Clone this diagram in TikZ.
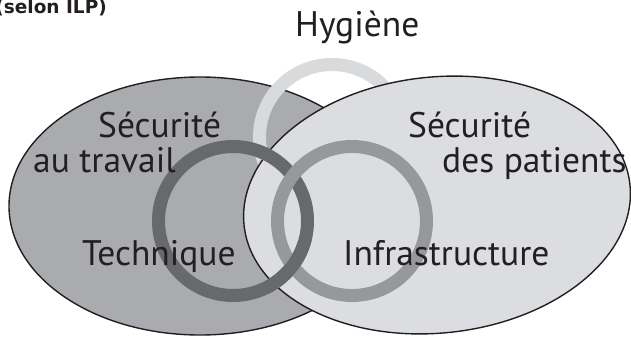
\documentclass[tikz,border=0pt]{standalone}
\usepackage{fontspec}
\setmainfont{PT Sans}
\newfontfamily\titlefont{DejaVu Sans}
\definecolor{leftfill}{HTML}{A9ABAE}
\definecolor{rightfill}{HTML}{DCDDE0}
\definecolor{hygring}{HTML}{D9DADB}
\definecolor{techring}{HTML}{68696B}
\definecolor{infraring}{HTML}{97989A}
\definecolor{txt}{HTML}{231F20}
\tikzset{
  outline/.style={draw=txt,line width=1.4pt},
  ringstyle/.style={line width=13pt},
  lbl/.style={inner sep=0pt,anchor=base west,text=txt,font=\fontsize{35.5}{40}\selectfont},
  ttl/.style={inner sep=0pt,anchor=base east,text=txt,font=\titlefont\bfseries\fontsize{18.5}{22}\selectfont}
}
\begin{document}
\begin{tikzpicture}[x=1pt,y=1pt]
\useasboundingbox (0,0) rectangle (631,338);
% left ellipse
\filldraw[fill=leftfill,outline] (200,132) ellipse [x radius=191, y radius=129];
% hygiene ring
\draw[hygring,ringstyle] (332,201) circle [radius=72.5];
% right ellipse
\filldraw[fill=rightfill,outline,rotate around={6:(437,133)}] (437,133) ellipse [x radius=194, y radius=128];
% technique and infrastructure rings (interlocked)
\draw[techring,ringstyle] (233,117) circle [radius=74.5];
\draw[infraring,ringstyle] (352,117) circle [radius=74.5];
\begin{scope}
  \clip (268,45) rectangle (318,98);
  \draw[techring,ringstyle] (233,117) circle [radius=74.5];
\end{scope}
% labels
\node[ttl] (title) at (107,324) {(selon ILP)};
\node[lbl] (hyg) at (295,301) {Hygiène};
\node[lbl] (secl) at (98,201) {Sécurité};
\node[lbl] (trav) at (33,166) {au travail};
\node[lbl] (tech) at (82,73) {Technique};
\node[lbl] (secr) at (408,201) {Sécurité};
\node[lbl] (pat) at (442,166) {des patients};
\node[lbl] (infra) at (343,73) {Infrastructure};
\end{tikzpicture}
\end{document}
